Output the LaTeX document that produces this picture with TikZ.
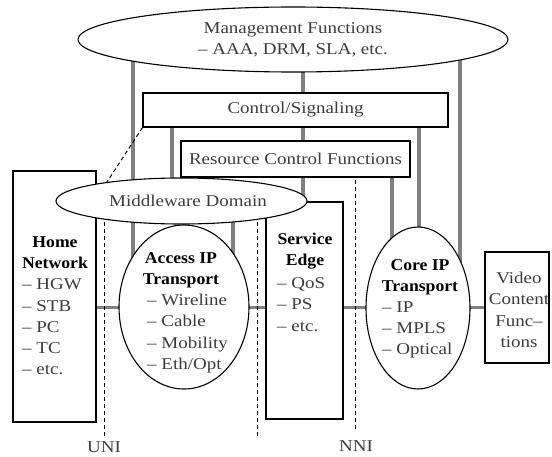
\documentclass[tikz,border=0pt]{standalone}
\usepackage{fontspec}
\setmainfont{Liberation Serif}[FakeStretch=1.15,BoldFeatures={FakeStretch=1.07}]
\usetikzlibrary{shapes.geometric,backgrounds}
\definecolor{wiregray}{RGB}{128,128,128}
\definecolor{ink}{RGB}{60,60,60}
\begin{document}
\begin{tikzpicture}[x=1pt,y=-1pt,
  box/.style={draw,line width=1.1pt,fill=white,inner sep=0pt},
  oval/.style={box,ellipse},
  wire/.style={draw=wiregray,line width=3.2pt},
  iface/.style={draw=black,line width=1pt,dash pattern=on 4pt off 3pt},
  body/.style={font=\fontsize{16.5}{21.3}\selectfont,text=ink,inner sep=0pt,align=left},
  head/.style={font=\fontsize{16.5}{21}\selectfont\bfseries,text=black,inner sep=0pt,align=center},
]
\useasboundingbox (0,0) rectangle (552,457);

% functional blocks
\node[oval,minimum width=430pt,minimum height=65pt,align=center,
      font=\fontsize{16.5}{21}\selectfont,text=ink] (mgmt) at (293,39.5)
      {Management Functions\\– AAA, DRM, SLA, etc.};
\node[box,minimum width=305pt,minimum height=34pt,
      font=\fontsize{16.5}{21}\selectfont,text=ink] (ctrl) at (295.5,110) {Control/Signaling};
\node[box,minimum width=229pt,minimum height=36pt,
      font=\fontsize{16.5}{21}\selectfont,text=ink] (res) at (295.5,159) {Resource Control Functions};
\node[box,minimum width=83pt,minimum height=251pt] (home) at (54.5,296.5) {};
\node[box,minimum width=77pt,minimum height=217pt] (se) at (304.5,310.5) {};
\node[oval,minimum width=130pt,minimum height=164pt] (acc) at (184,307) {};
\node[oval,minimum width=104pt,minimum height=162pt] (core) at (418,308) {};
\node[box,minimum width=64pt,minimum height=111pt] (vid) at (517,307.5) {};
\node[oval,minimum width=251pt,minimum height=46pt] (mw) at (181.5,201) {};

% texts
\node[body] (mwt) at (188,201) {Middleware Domain};
\node[head] (homeh) at (55,252.5) {Home\\Network};
\node[body,anchor=west] (homel) at (22,327) {– HGW\\– STB\\– PC\\– TC\\– etc.};
\node[head] (acch) at (181,270) {Access IP\\Transport};
\node[body,anchor=west] (accl) at (147,333.5) {– Wireline\\– Cable\\– Mobility\\– Eth/Opt};
\node[head] (seh) at (305,251.5) {Service\\Edge};
\node[body,anchor=west] (sel) at (277,304.5) {– QoS\\– PS\\– etc.};
\node[head] (coreh) at (420,277.5) {Core IP\\Transport};
\node[body,anchor=west] (corel) at (382,330) {– IP\\– MPLS\\– Optical};
\node[body,align=center] (vidt) at (519,310) {Video\\Content\\Func–\\tions};
\node[body] (uni) at (104,447.5) {UNI};
\node[body] (nni) at (356,446) {NNI};

% connectors behind the blocks
\coordinate (xa) at (133,0);
\coordinate (xb) at (172,0);
\coordinate (xc) at (233,0);
\coordinate (xd) at (303,0);
\coordinate (xe) at (392,0);
\coordinate (xf) at (419,0);
\coordinate (xg) at (460,0);
\coordinate (hy) at (0,307.5);
\coordinate (uniEnd) at (104,437);
\coordinate (midEnd) at (257,437);
\coordinate (nniEnd) at (355,430);
\coordinate (mwTap) at (98.5,195);
\begin{scope}[on background layer]
  \draw[wire] (mgmt.center -| xa) -- (acc.center -| xa);
  \draw[wire] (ctrl.center -| xb) -- (mw.center -| xb);
  \draw[wire] (mw.center -| xc) -- (acc.center -| xc);
  \draw[wire] (mgmt.center -| xd) -- (se.center -| xd);
  \draw[wire] (res.center -| xe) -- (core.center -| xe);
  \draw[wire] (ctrl.center -| xf) -- (core.center -| xf);
  \draw[wire] (mgmt.center -| xg) -- (core.center -| xg);
  \draw[wire] (home.center |- hy) -- (acc.center |- hy);
  \draw[wire] (acc.center |- hy) -- (se.center |- hy);
  \draw[wire] (se.center |- hy) -- (core.center |- hy);
  \draw[wire] (core.center |- hy) -- (vid.center |- hy);
  \draw[iface] (mw.center -| uniEnd) -- (uniEnd);
  \draw[iface] (mw.center -| midEnd) -- (midEnd);
  \draw[iface] (res.center -| nniEnd) -- (nniEnd);
  \draw[iface] (ctrl.south west) -- (mwTap);
\end{scope}
\end{tikzpicture}
\end{document}
